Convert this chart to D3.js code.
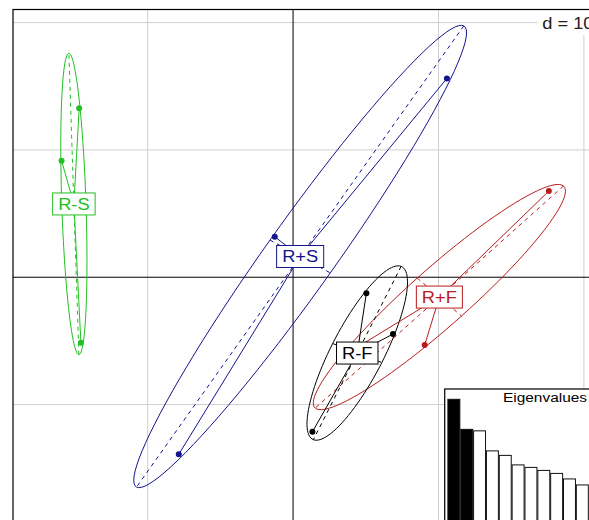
<!DOCTYPE html>
<html><head><meta charset="utf-8">
<script src="https://cdn.jsdelivr.net/npm/d3@7"></script>
<style>html,body{margin:0;padding:0;background:#fff;} svg{display:block;}</style>
</head><body>
<svg id="c" width="589" height="520"></svg>
<script>
// ---- data ----
const groups = ["R+F", "R+S", "R-F", "R-S"];
const groupColors = ["#b81c1c", "#14148c", "#000000", "#22c022"];
const pointGroup = ["R-S","R-S","R-S","R+S","R+S","R+S","R-F","R-F","R-F","R+F","R+F","R+F"];
const pointX = [-14.71, -15.92, -14.59, -1.26, 10.58, -7.86, 5.04, 6.87, 1.33, 17.59, 9.05, 3.54];
const pointY = [13.27, 9.15, -5.15, 3.18, 15.62, -13.91, -1.26, -4.46, -12.14, 6.77, -5.33, -6.11];
const gridStep = 10;
const gridLabel = "d = 10";
const eigenvalues = [2.47, 1.87, 1.84, 1.44, 1.35, 1.16, 1.11, 1.05, 0.99, 0.88, 0.76];
const eigenSelected = 2;
const eigenTitle = "Eigenvalues";
const ellipseCoeff = 1.5;

// ---- layout ----
const STRETCH = 1.143;
const FONT = "'Liberation Sans', Arial, sans-serif";
const svg = d3.select("#c");
const x = d3.scaleLinear().domain([-19.26, 20.9]).range([13, 597]);
const y = d3.scaleLinear().domain([21.03, -19.5]).range([9.5, 525.5]);

function stext(g, px, py, str, size, color, anchor) {
  return g.append("text")
    .attr("transform", `translate(${px},${py}) scale(${STRETCH},1)`)
    .attr("font-family", FONT).attr("font-size", size)
    .attr("fill", color).attr("text-anchor", anchor || "start")
    .text(str);
}

// grid
const gx = d3.range(Math.ceil(x.domain()[0] / gridStep) * gridStep, x.domain()[1] + 0.001, gridStep);
const gy = d3.range(Math.ceil(y.domain()[1] / gridStep) * gridStep, y.domain()[0] + 0.001, gridStep);
const grid = svg.append("g");
grid.selectAll(".vx").data(gx.filter(v => v !== 0)).join("line")
  .attr("x1", d => x(d)).attr("x2", d => x(d)).attr("y1", y.range()[0]).attr("y2", y.range()[1])
  .attr("stroke", "#cfcfcf").attr("stroke-width", 1);
grid.selectAll(".hy").data(gy.filter(v => v !== 0)).join("line")
  .attr("y1", d => y(d)).attr("y2", d => y(d)).attr("x1", x.range()[0]).attr("x2", x.range()[1])
  .attr("stroke", "#cfcfcf").attr("stroke-width", 1);

// d = 10 label box
const dg = svg.append("g");
const dRect = dg.append("rect").attr("fill", "#fff");
const dText = stext(dg, 0, 0, gridLabel, 16, "#222", "start");
const dW = dText.node().getComputedTextLength() * STRETCH;
const dEnd = x.range()[1] - 3.5;
dText.attr("transform", `translate(${dEnd - dW},28.5) scale(${STRETCH},1)`);
dRect.attr("x", dEnd - dW - 4.5).attr("y", y.range()[0]).attr("width", x.range()[1] - (dEnd - dW - 4.5)).attr("height", 25.5);

// axes
svg.append("line").attr("x1", x(0)).attr("x2", x(0)).attr("y1", y.range()[0]).attr("y2", y.range()[1]).attr("stroke", "#000");
svg.append("line").attr("y1", y(0)).attr("y2", y(0)).attr("x1", x.range()[0]).attr("x2", x.range()[1]).attr("stroke", "#000");

// ellipse util (ade4 util.ellipse)
function ellipse(mx, my, vx, cxy, vy, coeff) {
  const lig = 100, epsi = 1e-10;
  if (vx < 0) vx = 0; if (vy < 0) vy = 0;
  const delta = Math.sqrt((vx - vy) ** 2 + 4 * cxy * cxy);
  let l1 = (vx + vy + delta) / 2, l2 = vx + vy - l1;
  l1 = Math.sqrt(Math.max(l1, 0)); l2 = Math.sqrt(Math.max(l2, 0));
  let a0, b0, test = 0;
  if (vx === 0) { a0 = 0; b0 = 1; test = 1; }
  if (vy === 0 && !test) { a0 = 1; b0 = 0; test = 1; }
  if (Math.abs(cxy) < epsi && !test) { if (vx > vy) { a0 = 1; b0 = 0; } else { a0 = 0; b0 = 1; } test = 1; }
  if (!test) { a0 = 1; b0 = (l1 * l1 - vx) / cxy; const n = Math.hypot(a0, b0); a0 /= n; b0 /= n; }
  const c11 = coeff * a0 * l1, c12 = -coeff * b0 * l2, c21 = coeff * b0 * l1, c22 = coeff * a0 * l2;
  const pts = d3.range(lig).map(i => {
    const a = 2 * Math.PI * i / lig;
    return [mx + c11 * Math.cos(a) + c12 * Math.sin(a), my + c21 * Math.cos(a) + c22 * Math.sin(a)];
  });
  return { pts, axes: [[mx + c11, my + c21, mx - c11, my - c21], [mx + c12, my + c22, mx - c12, my - c22]] };
}

const stats = groups.map((gname, gi) => {
  const idx = pointGroup.map((g, i) => g === gname ? i : -1).filter(i => i >= 0);
  const xs = idx.map(i => pointX[i]), ys = idx.map(i => pointY[i]);
  const mx = d3.mean(xs), my = d3.mean(ys);
  const vx = d3.mean(xs.map(v => (v - mx) ** 2));
  const vy = d3.mean(ys.map(v => (v - my) ** 2));
  const cxy = d3.mean(xs.map((v, k) => (v - mx) * (ys[k] - my)));
  return { gname, color: groupColors[gi], idx, mx, my, ell: ellipse(mx, my, vx, cxy, vy, ellipseCoeff) };
});

const line = d3.line().x(d => x(d[0])).y(d => y(d[1])).curve(d3.curveLinearClosed);
const plot = svg.append("g");
// ellipses
stats.forEach(s => {
  plot.append("path").attr("d", line(s.ell.pts)).attr("fill", "none").attr("stroke", s.color).attr("stroke-width", 1);
  plot.selectAll(null).data(s.ell.axes).join("line")
    .attr("x1", d => x(d[0])).attr("y1", d => y(d[1])).attr("x2", d => x(d[2])).attr("y2", d => y(d[3]))
    .attr("stroke", s.color).attr("stroke-width", 1).attr("stroke-dasharray", "4,4");
});
// stars
stats.forEach(s => {
  plot.selectAll(null).data(s.idx).join("line")
    .attr("x1", x(s.mx)).attr("y1", y(s.my)).attr("x2", i => x(pointX[i])).attr("y2", i => y(pointY[i]))
    .attr("stroke", s.color).attr("stroke-width", 1);
});
// points
stats.forEach(s => {
  plot.selectAll(null).data(s.idx).join("circle")
    .attr("cx", i => x(pointX[i])).attr("cy", i => y(pointY[i])).attr("r", 3).attr("fill", s.color);
});
// labels
stats.forEach(s => {
  const lg = plot.append("g");
  const r = lg.append("rect").attr("fill", "#fff").attr("stroke", s.color).attr("stroke-width", 1);
  const t = stext(lg, x(s.mx), y(s.my) + 5.8, s.gname, 16, s.color, "middle");
  const w = t.node().getComputedTextLength() * STRETCH + 11;
  r.attr("x", x(s.mx) - w / 2).attr("y", y(s.my) - 11).attr("width", w).attr("height", 22);
});

// frame
svg.append("rect").attr("x", x.range()[0]).attr("y", y.range()[0])
  .attr("width", x.range()[1] - x.range()[0]).attr("height", y.range()[1] - y.range()[0])
  .attr("fill", "none").attr("stroke", "#000").attr("stroke-width", 1.2);

// eigenvalue inset
const ins = { left: 444.7, top: 389, right: x.range()[1] - 5, bottom: y.range()[1] - 2 };
const eg = svg.append("g");
eg.append("rect").attr("x", ins.left).attr("y", ins.top).attr("width", ins.right - ins.left).attr("height", ins.bottom - ins.top)
  .attr("fill", "#fff").attr("stroke", "#111").attr("stroke-width", 1.3);
const xb = d3.scaleBand().domain(d3.range(eigenvalues.length)).range([447.9, 588.3]).paddingInner(0.07);
const yb = d3.scaleLinear().domain([0, d3.max(eigenvalues)]).range([523, 399.3]);
eg.selectAll(".bar").data(eigenvalues).join("rect")
  .attr("x", (d, i) => xb(i)).attr("width", xb.bandwidth())
  .attr("y", d => yb(d)).attr("height", d => yb(0) - yb(d))
  .attr("fill", (d, i) => i < eigenSelected ? "#000" : "#fff")
  .attr("stroke", "#111").attr("stroke-width", 1);
stext(eg, 587, 401.5, eigenTitle, 13.5, "#000", "end");
</script>
</body></html>
